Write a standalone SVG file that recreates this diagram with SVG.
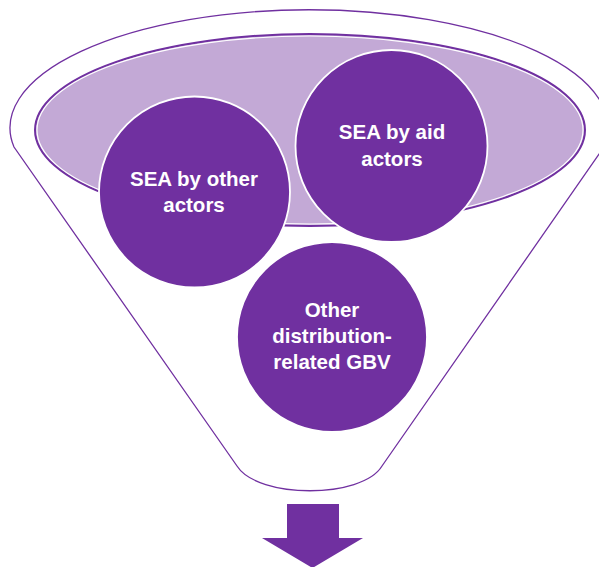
<svg xmlns="http://www.w3.org/2000/svg" width="599" height="567" viewBox="0 0 599 567">
<style>
.funnel{fill:#FFFFFF;stroke:#7030A0;stroke-width:1.3}
.rim{fill:#C3A9D6;stroke:#7030A0;stroke-width:2}
.rimhi{fill:none;stroke:#FFFFFF;stroke-width:1.2}
.node{fill:#7030A0;stroke:#FFFFFF;stroke-width:1.8}
.lbl{font-family:"Liberation Sans",Arial,sans-serif;font-weight:bold;font-size:20.5px;fill:#FFFFFF;text-anchor:middle}
.arrow{fill:#7030A0}
</style>
<g id="funnel">
<path class="funnel" d="M 14 147 A 299 118 0 1 1 604 147 L 382 466 C 362 499 258 499 237 466 Z"/>
<ellipse class="rim" cx="310" cy="130" rx="275" ry="96"/>
<ellipse class="rimhi" cx="310" cy="130" rx="273" ry="94"/>
</g>
<g id="node-sea-other">
<circle class="node" cx="194.5" cy="192" r="95.5"/>
<text class="lbl" x="194" y="186">SEA by other</text>
<text class="lbl" x="194" y="212">actors</text>
</g>
<g id="node-sea-aid">
<circle class="node" cx="391.5" cy="146" r="96"/>
<text class="lbl" x="392" y="139">SEA by aid</text>
<text class="lbl" x="392" y="166">actors</text>
</g>
<g id="node-other-gbv">
<circle class="node" cx="332" cy="337" r="95"/>
<text class="lbl" x="332" y="317">Other</text>
<text class="lbl" x="332" y="343">distribution-</text>
<text class="lbl" x="332" y="369">related GBV</text>
</g>
<g id="connectors">
<path class="arrow" d="M 287 504 L 339 504 L 339 538 L 363 538 L 312.5 568 L 262 538 L 287 538 Z"/>
</g>
</svg>
